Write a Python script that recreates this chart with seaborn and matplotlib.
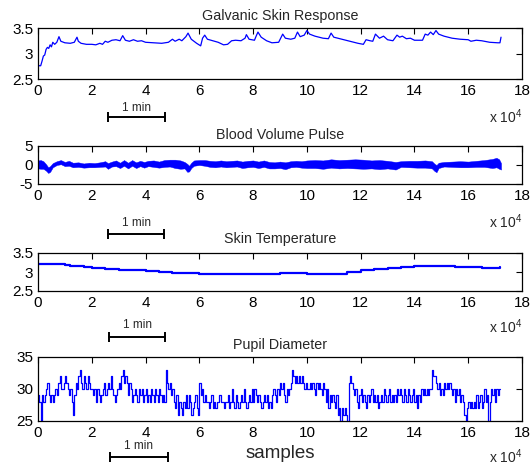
import numpy as np
import pandas as pd
import matplotlib
matplotlib.use("Agg")
import matplotlib.pyplot as plt
import matplotlib.transforms as mtransforms
import seaborn as sns

# ---------------- data (x in units of 1e4 samples) ----------------
titles = ["Galvanic Skin Response", "Blood Volume Pulse", "Skin Temperature", "Pupil Diameter"]
x_ticks = [0, 2, 4, 6, 8, 10, 12, 14, 16, 18]
y_ticks = [[2.5, 3, 3.5], [-5, 0, 5], [2.5, 3, 3.5], [25, 30, 35]]
y_ticklabels = [["2.5", "3", "3.5"], ["-5", "0", "5"], ["2.5", "3", "3.5"], ["25", "30", "35"]]

gsr_x = [0.00, 0.03, 0.10, 0.15, 0.20, 0.25, 0.30, 0.35, 0.40, 0.45, 0.50, 0.55, 0.62, 0.70, 0.78, 0.85,
         1.00, 1.20, 1.35, 1.45, 1.50, 1.60, 1.80, 2.00, 2.15, 2.30, 2.40, 2.50, 2.60, 2.75, 2.90, 3.05,
         3.15, 3.25, 3.40, 3.55, 3.70, 3.85, 4.00, 4.30, 4.60, 4.85, 5.00, 5.10, 5.25, 5.35, 5.50, 5.58,
         5.70, 5.90, 6.05, 6.12, 6.20, 6.30, 6.50, 6.70, 6.90, 7.05, 7.20, 7.35, 7.55, 7.70, 7.75, 7.85,
         8.05, 8.12, 8.18, 8.30, 8.50, 8.70, 8.95, 9.10, 9.20, 9.40, 9.55, 9.65, 9.75, 9.90, 10.00, 10.10,
         10.30, 10.60, 10.80, 10.90, 11.00, 11.30, 11.60, 11.90, 12.10, 12.20, 12.35, 12.45, 12.55, 12.70,
         12.85, 13.00, 13.20, 13.35, 13.45, 13.55, 13.70, 13.85, 14.00, 14.30, 14.40, 14.50, 14.60, 14.70,
         14.80, 14.90, 15.10, 15.40, 15.70, 16.00, 16.10, 16.30, 16.50, 16.80, 17.10, 17.18, 17.22]
gsr_y = [2.80, 2.76, 2.76, 2.85, 2.95, 2.97, 3.08, 3.12, 3.10, 3.17, 3.13, 3.22, 3.18, 3.22, 3.33, 3.24,
         3.21, 3.20, 3.22, 3.32, 3.24, 3.20, 3.18, 3.18, 3.17, 3.20, 3.18, 3.24, 3.22, 3.26, 3.27, 3.25,
         3.35, 3.26, 3.24, 3.27, 3.24, 3.25, 3.22, 3.21, 3.20, 3.22, 3.28, 3.24, 3.28, 3.25, 3.33, 3.40,
         3.28, 3.20, 3.15, 3.30, 3.36, 3.28, 3.25, 3.22, 3.17, 3.18, 3.25, 3.26, 3.25, 3.30, 3.37, 3.28,
         3.26, 3.35, 3.42, 3.32, 3.25, 3.21, 3.22, 3.38, 3.30, 3.28, 3.30, 3.42, 3.33, 3.36, 3.45, 3.38,
         3.34, 3.30, 3.29, 3.40, 3.32, 3.28, 3.24, 3.20, 3.18, 3.27, 3.25, 3.24, 3.38, 3.30,
         3.34, 3.27, 3.25, 3.36, 3.32, 3.34, 3.29, 3.30, 3.26, 3.26, 3.38, 3.36, 3.42, 3.37,
         3.45, 3.38, 3.34, 3.30, 3.28, 3.27, 3.24, 3.26, 3.25, 3.22, 3.21, 3.21, 3.32]

bvp_x = [0.00, 0.10, 0.20, 0.30, 0.38, 0.45, 0.55, 0.70, 0.85, 1.00, 1.15, 1.30, 1.50, 1.70, 1.90, 2.10,
         2.30, 2.50, 2.60, 2.75, 2.90, 3.05, 3.20, 3.35, 3.50, 3.65, 3.80, 3.95, 4.10, 4.30, 4.50, 4.70,
         4.90, 5.10, 5.30, 5.45, 5.55, 5.62, 5.70, 5.80, 6.00, 6.20, 6.40, 6.60, 6.80, 7.00, 7.20, 7.40,
         7.60, 7.80, 8.00, 8.20, 8.40, 8.60, 8.80, 9.00, 9.20, 9.40, 9.60, 9.80, 10.00, 10.30, 10.60, 10.90,
         11.20, 11.50, 11.80, 12.10, 12.40, 12.70, 13.00, 13.30, 13.50, 13.80, 14.10, 14.40, 14.65, 14.75,
         14.82, 14.90, 15.10, 15.40, 15.70, 16.00, 16.30, 16.60, 16.90, 17.05, 17.15, 17.22]
bvp_upper = [1.2, 1.3, 1.0, 0.2, -0.6, -0.3, 0.5, 1.0, 1.3, 0.8, 1.1, 0.6, 0.7, 0.4, 0.6, 0.5,
             0.7, 1.0, 0.5, 0.9, 1.2, 0.6, 1.3, 0.6, 1.3, 0.7, 1.1, 0.8, 1.1, 1.2, 0.9, 1.3,
             1.4, 1.4, 1.2, 0.8, 0.3, -0.2, 0.6, 1.2, 1.3, 1.3, 1.1, 1.0, 1.2, 1.0, 1.1, 1.2,
             0.9, 1.1, 1.2, 0.9, 1.2, 0.8, 0.7, 0.9, 0.7, 1.0, 1.1, 1.0, 1.2, 1.3, 1.2, 1.5,
             1.3, 1.4, 1.5, 1.4, 1.2, 1.3, 1.1, 0.8, 1.0, 1.1, 1.1, 1.2, 1.0, 0.3,
             0.0, 0.6, 0.8, 0.9, 1.0, 0.9, 1.1, 1.3, 1.6, 1.9, 1.5, 0.5]
bvp_lower = [-0.9, -1.0, -1.0, -1.5, -2.1, -1.8, -0.6, 0.0, 0.2, -0.3, -0.2, -0.6, -0.5, -0.7, -0.6, -0.6,
             -0.5, -0.4, -1.0, -0.4, -0.3, -0.8, -0.2, -0.9, -0.2, -0.8, -0.3, -0.7, -0.3, -0.5, -0.7, -0.5,
             -0.4, -0.8, -1.0, -0.9, -1.8, -1.7, -0.8, -0.2, 0.0, -0.2, -0.5, -0.6, -0.4, -0.6, -0.5, -0.4,
             -0.8, -0.6, -0.5, -0.8, -0.5, -0.9, -0.9, -0.8, -1.1, -0.6, -0.5, -0.7, -0.8, -0.8, -1.0, -0.7,
             -0.9, -0.8, -0.9, -1.0, -0.9, -1.1, -0.9, -1.2, -0.5, -0.6, -0.7, -0.7, -0.9, -1.6,
             -1.9, -0.8, -0.4, -0.5, -0.6, -0.6, -0.5, -0.5, -0.8, -0.6, -1.0, -1.2]

st_x = [0.0, 0.5, 1.0, 1.2, 1.5, 1.7, 2.0, 2.5, 3.0, 3.5, 4.0, 4.5, 5.0, 6.0, 7.0, 8.0,
        9.0, 9.5, 10.0, 10.5, 11.0, 11.5, 12.0, 12.5, 13.0, 13.5, 14.0, 15.0, 15.5, 16.0, 16.5, 17.2]
st_y = [3.20, 3.21, 3.19, 3.16, 3.15, 3.12, 3.11, 3.08, 3.06, 3.04, 3.02, 3.00, 2.97, 2.96, 2.96, 2.96,
        2.97, 2.97, 2.95, 2.95, 2.96, 3.01, 3.04, 3.07, 3.11, 3.14, 3.15, 3.15, 3.12, 3.12, 3.11, 3.12]

pd_step = 0.05
pd_vals = [
    29, 28, 25, 29, 28, 29, 30, 31, 29, 28, 29, 28, 29, 30, 29, 31, 32, 30, 30, 31,
    32, 31, 30, 29, 30, 28, 26, 29, 31, 30, 32, 33, 31, 30, 32, 31, 30, 32, 31, 30,
    30, 29, 30, 28, 30, 29, 28, 29, 30, 31, 29, 30, 31, 30, 32, 30, 29, 28, 29, 30,
    31, 30, 32, 33, 31, 32, 31, 29, 31, 30, 28, 29, 30, 29, 28, 30, 29, 30, 28, 29,
    30, 28, 29, 28, 30, 29, 28, 30, 29, 28, 30, 29, 28, 29, 28, 33, 31, 30, 31, 29,
    30, 28, 27, 29, 26, 28, 27, 26, 28, 27, 29, 27, 29, 28, 26, 27, 28, 29, 27, 26,
    31, 29, 30, 28, 29, 28, 28, 27, 28, 29, 27, 28, 27, 28, 28, 29, 28, 28, 27, 28,
    28, 29, 27, 28, 30, 28, 27, 29, 28, 27, 28, 29, 28, 30, 28, 27, 28, 29, 28, 30,
    28, 30, 29, 28, 29, 28, 27, 28, 29, 28, 29, 27, 28, 27, 29, 30, 29, 28, 30, 29,
    31, 30, 31, 29, 28, 30, 29, 30, 31, 33, 32, 31, 32, 31, 32, 31, 32, 31, 30, 31,
    30, 30, 31, 30, 31, 30, 29, 31, 30, 31, 30, 29, 31, 30, 28, 30, 27, 29, 28, 29,
    28, 27, 29, 26, 27, 25, 27, 26, 27, 26, 25, 31, 32, 31, 30, 29, 30, 28, 27, 29,
    30, 28, 29, 28, 27, 29, 28, 29, 30, 28, 29, 28, 29, 27, 28, 29, 28, 30, 29, 28,
    29, 30, 28, 29, 28, 29, 28, 30, 29, 30, 29, 28, 30, 29, 28, 30, 29, 28, 29, 30,
    28, 29, 27, 29, 28, 30, 29, 30, 29, 30, 29, 30, 30, 33, 32, 32, 31, 30, 31, 29,
    30, 29, 31, 30, 31, 30, 31, 30, 29, 30, 28, 30, 29, 30, 28, 29, 28, 26, 25, 27,
    28, 27, 28, 27, 28, 27, 29, 27, 28, 29, 27, 28, 30, 28, 29, 25, 28, 30, 29, 30,
    28, 30, 29, 30, 30]

scale_bar = [[2.60, 4.72], [2.62, 4.70], [2.64, 4.74], [2.68, 4.83]]

# ---------------- style ----------------
sns.set_style("white")
plt.rcParams["font.family"] = ["Liberation Sans", "DejaVu Sans"]
plt.rcParams["mathtext.fontset"] = "custom"
plt.rcParams["mathtext.rm"] = "Liberation Sans"
plt.rcParams["mathtext.it"] = "Liberation Sans"
BLUE = "#0000ff"

W, H = 531, 468
fig = plt.figure(figsize=(W / 100, H / 100), dpi=100)
fig.patch.set_facecolor("white")

left, right = 38, 522
rows = [(28, 79), (146, 184), (253, 291), (357, 421)]
bar_off = [(38, 29), (50, 39), (46, 34), (36, 25)]
xlab_off = [38, 38, 36, 36]
title_off = [15, 14, 16, 15]

axes = []
for (top, bot) in rows:
    ax = fig.add_axes([left / W, 1 - bot / H, (right - left) / W, (bot - top) / H])
    axes.append(ax)

# GSR
sns.lineplot(x=gsr_x, y=gsr_y, ax=axes[0], color=BLUE, lw=0.9, estimator=None, sort=False)
# BVP (dense oscillation drawn as its envelope band)
axes[1].fill_between(bvp_x, bvp_lower, bvp_upper, color=BLUE, lw=0.3, edgecolor=BLUE)
# Skin temperature
sns.lineplot(x=st_x, y=st_y, ax=axes[2], color=BLUE, lw=1.6, estimator=None, sort=False,
             drawstyle="steps-post")
# Pupil diameter
pd_x = np.arange(len(pd_vals)) * pd_step
sns.lineplot(x=pd_x, y=pd_vals, ax=axes[3], color=BLUE, lw=0.9, estimator=None, sort=False,
             drawstyle="steps-post")

for i, ax in enumerate(axes):
    ax.set_xlim(0, 18)
    ax.set_ylim(y_ticks[i][0], y_ticks[i][-1])
    ax.set_xticks(x_ticks)
    ax.set_xticklabels([str(t) for t in x_ticks])
    ax.set_yticks(y_ticks[i])
    ax.set_yticklabels(y_ticklabels[i])
    ax.tick_params(direction="in", length=4, width=0.8, top=True, right=True,
                   labelsize=11, pad=3.5, colors="black")
    for s in ax.spines.values():
        s.set_visible(True)
        s.set_color("black")
        s.set_linewidth(0.9)
    ax.set_xlabel("")
    ax.set_ylabel("")
    ax.set_title(titles[i], fontsize=10.3, pad=title_off[i] - 9)
    # "x 10^4"
    ax.annotate(r"x 10$^{4}$", xy=(1.0, 0), xycoords="axes fraction",
                xytext=(0, -xlab_off[i] * 72 / 100), textcoords="offset points",
                ha="right", va="center", fontsize=10)
    # 1 min scale bar
    tb = mtransforms.offset_copy(ax.get_xaxis_transform(), fig=fig, y=-bar_off[i][0], units="dots")
    ax.plot(scale_bar[i], [0, 0], transform=tb, color="black", lw=1.4, marker="|",
            markersize=7, markeredgewidth=1.4, clip_on=False)
    tt = mtransforms.offset_copy(ax.get_xaxis_transform(), fig=fig, y=-bar_off[i][1], units="dots")
    ax.text(sum(scale_bar[i]) / 2, 0, "1 min", transform=tt, ha="center", va="center", fontsize=8.5)

axes[3].annotate("samples", xy=(0.5, 0), xycoords="axes fraction",
                 xytext=(0, -32 * 72 / 100), textcoords="offset points",
                 ha="center", va="center", fontsize=13.5)

fig.savefig("out.png", dpi=100)
